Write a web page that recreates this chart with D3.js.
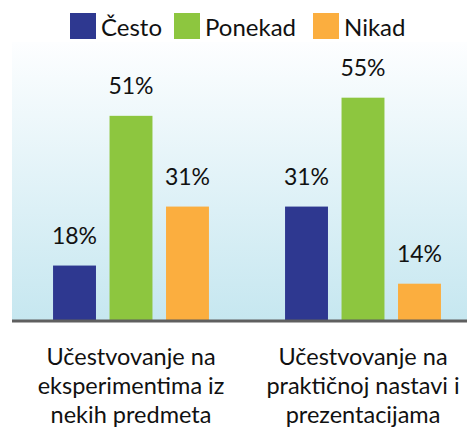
<!DOCTYPE html>
<html>
<head>
<meta charset="utf-8">
<script src="https://cdn.jsdelivr.net/npm/d3@7"></script>
<style>
  html, body { margin: 0; padding: 0; background: #fff; }
  svg { display: block; font-family: Lato, "Open Sans", sans-serif; }
</style>
</head>
<body>
<div id="vis"></div>
<script>
// chart data
const categories = [
  ['Učestvovanje na', 'eksperimentima iz', 'nekih predmeta'],
  ['Učestvovanje na', 'praktičnoj nastavi i', 'prezentacijama']
];
const series = ['Često', 'Ponekad', 'Nikad'];
const colors = ['#2e3890', '#8dc63f', '#fbae3f'];
const cesto = [18, 31];
const ponekad = [51, 55];
const nikad = [31, 14];

const width = 467;
const height = 435;

const svg = d3.select('#vis')
  .append('svg')
    .attr('width', width)
    .attr('height', height);

// background gradient of the plot area
const grad = svg.append('defs')
  .append('linearGradient')
    .attr('id', 'bg')
    .attr('x1', 0).attr('y1', 0)
    .attr('x2', 0).attr('y2', 1);
grad.append('stop').attr('offset', '0%').attr('stop-color', '#fdfeff');
grad.append('stop').attr('offset', '100%').attr('stop-color', '#c6e7f0');

const plotTop = 42;
const baseY = 320;

svg.append('rect')
  .attr('x', 12)
  .attr('y', plotTop)
  .attr('width', width - 12)
  .attr('height', baseY - plotTop)
  .attr('fill', 'url(#bg)');

const groupIdx = d3.range(categories.length);

const x0 = d3.scaleBand()
  .domain(groupIdx)
  .range([15, 479])
  .paddingInner(0.328)
  .paddingOuter(0.164);

const x1 = d3.scaleBand()
  .domain(series)
  .range([0, x0.bandwidth()])
  .paddingInner(0.24)
  .paddingOuter(0);

const y = d3.scaleLinear()
  .domain([6, 60])
  .range([baseY, 75]);

const color = d3.scaleOrdinal().domain(series).range(colors);

const values = [cesto, ponekad, nikad];
const rows = [];
groupIdx.forEach(g => {
  series.forEach((s, i) => rows.push({ g, s, v: values[i][g] }));
});

const bars = svg.append('g');
bars.selectAll('rect')
  .data(rows)
  .join('rect')
    .attr('x', d => x0(d.g) + x1(d.s))
    .attr('y', d => y(d.v))
    .attr('width', x1.bandwidth())
    .attr('height', d => baseY - y(d.v))
    .attr('fill', d => color(d.s));

// value labels
bars.selectAll('text')
  .data(rows)
  .join('text')
    .attr('x', d => x0(d.g) + x1(d.s) + x1.bandwidth() / 2)
    .attr('y', d => y(d.v) - 22)
    .attr('text-anchor', 'middle')
    .attr('font-size', 23)
    .attr('fill', '#111')
    .text(d => d.v + '%');

// baseline axis
svg.append('line')
  .attr('x1', 12).attr('x2', width)
  .attr('y1', baseY + 1).attr('y2', baseY + 1)
  .attr('stroke', '#5f5f5f')
  .attr('stroke-width', 3);

// category labels
const catG = svg.append('g');
catG.selectAll('text')
  .data(groupIdx)
  .join('text')
    .attr('x', g => x0(g) + x0.bandwidth() / 2)
    .attr('y', 365)
    .attr('text-anchor', 'middle')
    .attr('font-size', 23.5)
    .attr('fill', '#111')
    .selectAll('tspan')
    .data(g => categories[g].map(t => ({ t, x: x0(g) + x0.bandwidth() / 2 })))
    .join('tspan')
      .attr('x', d => d.x)
      .attr('dy', (d, i) => i === 0 ? 0 : 29)
      .text(d => d.t);

// legend
const legendX = [70, 174, 313];
const legend = svg.append('g');
const items = legend.selectAll('g')
  .data(series)
  .join('g')
    .attr('transform', (d, i) => `translate(${legendX[i]},13)`);
items.append('rect')
  .attr('width', 26)
  .attr('height', 26)
  .attr('fill', d => color(d));
items.append('text')
  .attr('x', 31)
  .attr('y', 23)
  .attr('font-size', 24)
  .attr('fill', '#111')
  .text(d => d);
</script>
</body>
</html>
